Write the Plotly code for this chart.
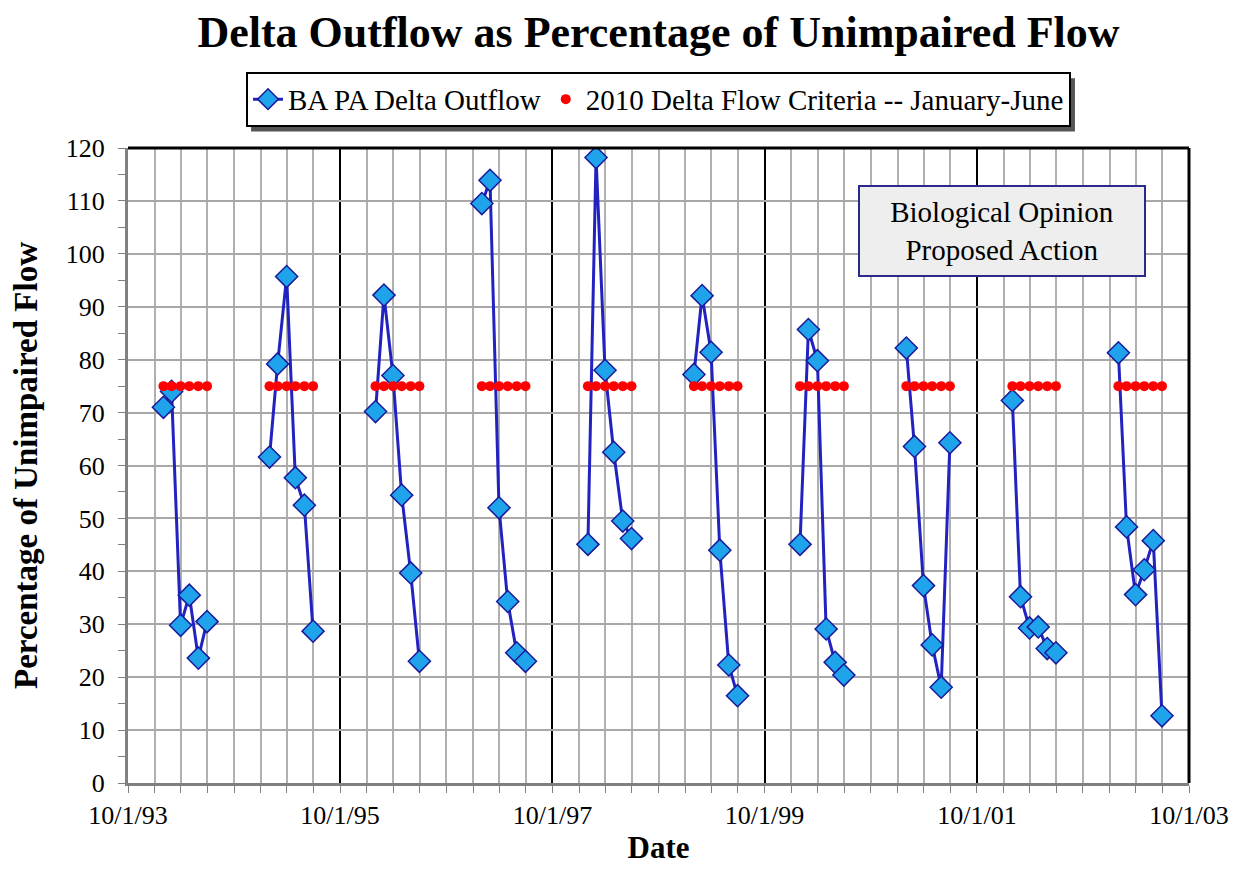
import pandas as pd
import plotly.graph_objects as go

# ---- data ----
years = [1994, 1995, 1996, 1997, 1998, 1999, 2000, 2001, 2002, 2003]
months = [1, 2, 3, 4, 5, 6]  # January - June, plotted at month end
outflow_1994 = [71.0, 74.0, 29.8, 35.5, 23.6, 30.5]
outflow_1995 = [61.6, 79.2, 95.7, 57.7, 52.5, 28.7]
outflow_1996 = [70.2, 92.2, 77.0, 54.4, 39.7, 23.0]
outflow_1997 = [109.5, 113.9, 52.0, 34.3, 24.6, 23.0]
outflow_1998 = [45.1, 118.2, 78.0, 62.5, 49.5, 46.2]
outflow_1999 = [77.2, 92.1, 81.4, 44.0, 22.3, 16.5]
outflow_2000 = [45.1, 85.7, 79.8, 29.1, 22.8, 20.4]
outflow_2001 = [82.2, 63.6, 37.3, 26.1, 18.1, 64.3]
outflow_2002 = [72.3, 35.2, 29.3, 29.5, 25.4, 24.6]
outflow_2003 = [81.3, 48.4, 35.6, 40.3, 45.8, 12.7]
criteria_value = 75.0

outflow_by_year = [outflow_1994, outflow_1995, outflow_1996, outflow_1997, outflow_1998,
                   outflow_1999, outflow_2000, outflow_2001, outflow_2002, outflow_2003]

series_name = "BA PA Delta Outflow"
criteria_name = "2010 Delta Flow Criteria -- January-June"

# ---- build traces ----
x_out, y_out, x_crit, y_crit = [], [], [], []
for yr, vals in zip(years, outflow_by_year):
    for m, v in zip(months, vals):
        d = pd.Timestamp(yr, m, 1) + pd.offsets.MonthEnd(0)
        x_out.append(d)
        y_out.append(v)
        x_crit.append(d)
        y_crit.append(criteria_value)
    x_out.append(None)
    y_out.append(None)

serif = "Liberation Serif, Times New Roman, serif"

fig = go.Figure()
fig.add_trace(go.Scatter(
    x=x_out, y=y_out, mode="lines+markers", name=series_name,
    connectgaps=False,
    line=dict(color="#2222C0", width=3),
    marker=dict(symbol="diamond", size=17, color="#1FA3EA",
                line=dict(color="#1A1A9A", width=1.5)),
))
fig.add_trace(go.Scatter(
    x=x_crit, y=y_crit, mode="markers", name=criteria_name,
    marker=dict(symbol="circle", size=10, color="#FF0000"),
))

fig.update_layout(
    width=1223, height=857,
    paper_bgcolor="white", plot_bgcolor="white",
    margin=dict(l=120, r=42, t=140, b=82, autoexpand=False),
    font=dict(family=serif, size=25, color="black"),
    title=dict(text="<b>Delta Outflow as Percentage of Unimpaired Flow</b>",
               x=0.5, xref="paper", y=0.972, yanchor="middle",
               font=dict(family=serif, size=44, color="black")),
    showlegend=True,
    legend=dict(orientation="h", x=0.5, xanchor="center", y=1.12, yanchor="top",
                bgcolor="white", bordercolor="black", borderwidth=2,
                font=dict(family=serif, size=29), itemwidth=30),
    xaxis=dict(
        type="date", range=["1993-10-01", "2003-10-01"], automargin=False,
        tick0="1993-10-01", dtick="M24", tickformat="%-m/%-d/%y",
        showgrid=True, gridcolor="black", gridwidth=2,
        showline=True, linecolor="#808080", linewidth=3,
        ticks="outside", ticklen=7, tickcolor="#808080",
        tickfont=dict(family=serif, size=26),
        minor=dict(tick0="1993-10-01", dtick="M3", showgrid=True,
                   gridcolor="#B0B0B0", gridwidth=2,
                   ticks="outside", ticklen=7, tickcolor="#808080"),
        title=dict(text="<b>Date</b>", font=dict(family=serif, size=31), standoff=34),
        zeroline=False,
    ),
    yaxis=dict(
        range=[0, 120], dtick=10, tick0=0, automargin=False,
        showgrid=True, gridcolor="#A8A8A8", gridwidth=2,
        showline=True, linecolor="#808080", linewidth=3,
        ticks="outside", ticklen=7, tickcolor="#808080",
        tickfont=dict(family=serif, size=26), ticklabelstandoff=8,
        minor=dict(dtick=5, ticks="outside", ticklen=7, tickcolor="#808080", showgrid=False),
        title=dict(text="<b>Percentage of Unimpaired Flow</b>", font=dict(family=serif, size=33),
                   standoff=24),
        zeroline=False,
    ),
)

# legend drop shadow
fig.add_shape(type="rect", xref="paper", yref="paper",
              x0=0.1160, x1=0.8925, y0=1.026, y1=1.110,
              line=dict(width=0), fillcolor="#555555", layer="above")

# top and right frame lines (black)
fig.add_shape(type="line", xref="paper", yref="paper", x0=0, x1=1, y0=1, y1=1,
              line=dict(color="black", width=3))
fig.add_shape(type="line", xref="paper", yref="paper", x0=1, x1=1, y0=0, y1=1,
              line=dict(color="black", width=3))

# annotation box
fig.add_annotation(
    xref="paper", yref="paper", x=0.9595, y=0.869, xanchor="right", yanchor="middle",
    text="Biological Opinion<br>Proposed Action", showarrow=False,
    font=dict(family=serif, size=29, color="black"),
    bgcolor="#EEEEEE", bordercolor="#2A2A8A", borderwidth=2, borderpad=8,
    width=268, height=72, align="center",
)

fig.write_html("out.html")
